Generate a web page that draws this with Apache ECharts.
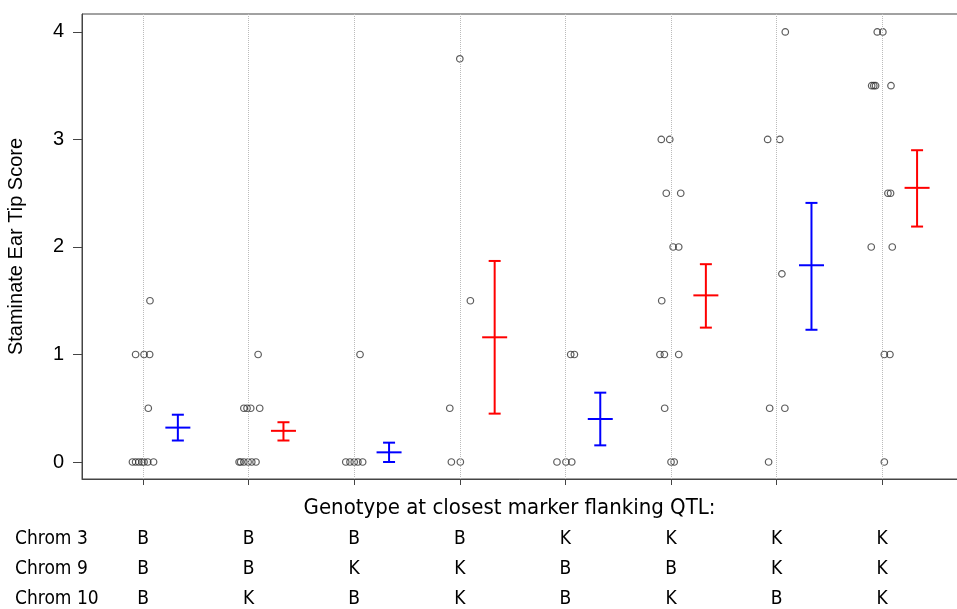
<!DOCTYPE html>
<html>
<head>
<meta charset="utf-8">
<script src="https://cdn.jsdelivr.net/npm/echarts@6/dist/echarts.min.js"></script>
<style>
  html, body { margin: 0; padding: 0; background: #fff; }
  #chart { width: 957px; height: 609px; }
</style>
</head>
<body>
<div id="chart"></div>
<script>
// genotype columns (x positions 1..8)
const groupPos = [1, 2, 3, 4, 5, 6, 7, 8];
const chrom3 = ['B', 'B', 'B', 'B', 'K', 'K', 'K', 'K'];
const chrom9 = ['B', 'B', 'K', 'K', 'B', 'B', 'K', 'K'];
const chrom10 = ['B', 'K', 'B', 'K', 'B', 'K', 'B', 'K'];
const yTicks = [0, 1, 2, 3, 4];

// mean +/- error bars
const meanScore = [0.32, 0.29, 0.09, 1.16, 0.40, 1.55, 1.83, 2.55];
const lowerScore = [0.20, 0.20, 0.00, 0.45, 0.155, 1.25, 1.23, 2.19];
const upperScore = [0.44, 0.37, 0.18, 1.87, 0.645, 1.84, 2.41, 2.90];
const barColors = ['#0000ff', '#ff0000', '#0000ff', '#ff0000', '#0000ff', '#ff0000', '#0000ff', '#ff0000'];

// individual plants: [jitter from column, score]
const pts1 = [[0.066, 1.5], [-0.07, 1], [0.01, 1], [0.063, 1], [0.05, 0.5],
  [-0.1, 0], [-0.07, 0], [-0.04, 0], [-0.01, 0], [0.01, 0], [0.045, 0], [0.1, 0]];
const pts2 = [[0.09, 1], [-0.045, 0.5], [-0.015, 0.5], [0.02, 0.5], [0.105, 0.5],
  [-0.09, 0], [-0.075, 0], [-0.045, 0], [-0.005, 0], [0.03, 0], [0.07, 0]];
const pts3 = [[0.055, 1], [-0.08, 0], [-0.04, 0], [0, 0], [0.035, 0], [0.08, 0]];
const pts4 = [[0, 3.75], [0.1, 1.5], [-0.095, 0.5], [-0.08, 0], [0.005, 0]];
const pts5 = [[0.05, 1], [0.085, 1], [-0.08, 0], [0.005, 0], [0.06, 0]];
const pts6 = [[-0.092, 3], [-0.012, 3], [-0.045, 2.5], [0.092, 2.5], [0.02, 2], [0.073, 2],
  [-0.088, 1.5], [-0.105, 1], [-0.063, 1], [0.073, 1], [-0.06, 0.5], [0, 0], [0.03, 0]];
const pts7 = [[0.082, 4], [-0.085, 3], [0.03, 3], [0.05, 1.75], [-0.066, 0.5], [0.078, 0.5], [-0.076, 0]];
const pts8 = [[-0.047, 4], [0.006, 4], [-0.1, 3.5], [-0.08, 3.5], [-0.063, 3.5], [0.083, 3.5],
  [0.054, 2.5], [0.079, 2.5], [-0.104, 2], [0.095, 2], [0.02, 1], [0.073, 1], [0.02, 0]];
const allPts = [pts1, pts2, pts3, pts4, pts5, pts6, pts7, pts8];

const barOffset = 0.33;
const narrowFont = "'DejaVu Sans Condensed', Roboto, sans-serif";

const scatterData = [];
allPts.forEach((grp, i) => {
  grp.forEach(p => scatterData.push([groupPos[i] + p[0], p[1]]));
});

const barData = groupPos.map((x, i) => [x + barOffset, lowerScore[i], upperScore[i], meanScore[i]]);

const chart = echarts.init(document.getElementById('chart'));

const option = {
  animation: false,
  grid: {
    left: 82, top: 14, right: -2, bottom: 130,
    outerBoundsMode: 'none',
    containLabel: false,
    show: true, borderColor: '#444', borderWidth: 1
  },
  xAxis: {
    type: 'value',
    min: 0.4223,
    max: 8.727,
    name: 'Genotype at closest marker flanking QTL:',
    nameLocation: 'middle',
    nameGap: 18,
    nameMoveOverlap: false,
    nameTextStyle: { fontFamily: narrowFont, fontSize: 22, color: '#000', padding: [0, 22, 0, 0] },
    axisLine: { show: true, onZero: false, lineStyle: { color: '#444' } },
    axisTick: { show: true, customValues: groupPos, length: 6, lineStyle: { color: '#444' } },
    splitLine: { show: false },
    axisLabel: {
      customValues: groupPos,
      margin: 45,
      fontFamily: narrowFont,
      fontSize: 19,
      lineHeight: 30,
      color: '#000',
      formatter: v => {
        const i = Math.round(v) - 1;
        return chrom3[i] + '\n' + chrom9[i] + '\n' + chrom10[i];
      }
    }
  },
  yAxis: {
    type: 'value',
    min: -0.158,
    max: 4.167,
    name: 'Staminate Ear Tip Score',
    nameLocation: 'middle',
    nameGap: 56,
    nameTextStyle: { fontFamily: 'Liberation Sans', fontSize: 20, color: '#000' },
    axisLine: { show: true, onZero: false, lineStyle: { color: '#444' } },
    axisTick: { show: true, customValues: yTicks, length: 9, lineStyle: { color: '#444' } },
    splitLine: { show: false },
    axisLabel: {
      customValues: yTicks,
      margin: 18,
      fontFamily: 'Liberation Sans',
      fontSize: 20,
      color: '#000'
    }
  },
  graphic: [
    { type: 'text', left: 15, top: 530, style: { text: 'Chrom 3', font: '19px ' + narrowFont, fill: '#000' } },
    { type: 'text', left: 15, top: 560, style: { text: 'Chrom 9', font: '19px ' + narrowFont, fill: '#000' } },
    { type: 'text', left: 15, top: 590, style: { text: 'Chrom 10', font: '19px ' + narrowFont, fill: '#000' } }
  ],
  series: [
    {
      type: 'scatter',
      data: scatterData,
      symbol: 'circle',
      symbolSize: 6.5,
      itemStyle: { color: 'rgba(0,0,0,0)', borderColor: '#333', borderWidth: 1.2 },
      z: 3,
      markLine: {
        silent: true,
        symbol: 'none',
        label: { show: false },
        lineStyle: { color: '#bbb', type: 'dotted', width: 1 },
        data: groupPos.map(x => ({ xAxis: x }))
      }
    },
    {
      type: 'custom',
      data: barData,
      encode: { x: 0, y: [1, 2, 3] },
      z: 4,
      renderItem: (params, api) => {
        const x = api.value(0);
        const pLo = api.coord([x, api.value(1)]);
        const pHi = api.coord([x, api.value(2)]);
        const pM = api.coord([x, api.value(3)]);
        const style = { stroke: barColors[params.dataIndex], lineWidth: 2 };
        return {
          type: 'group',
          children: [
            { type: 'line', shape: { x1: pLo[0], y1: pLo[1], x2: pHi[0], y2: pHi[1] }, style },
            { type: 'line', shape: { x1: pHi[0] - 6, y1: pHi[1], x2: pHi[0] + 6, y2: pHi[1] }, style },
            { type: 'line', shape: { x1: pLo[0] - 6, y1: pLo[1], x2: pLo[0] + 6, y2: pLo[1] }, style },
            { type: 'line', shape: { x1: pM[0] - 12.5, y1: pM[1], x2: pM[0] + 12.5, y2: pM[1] }, style }
          ]
        };
      }
    }
  ]
};

chart.setOption(option);
</script>
</body>
</html>
